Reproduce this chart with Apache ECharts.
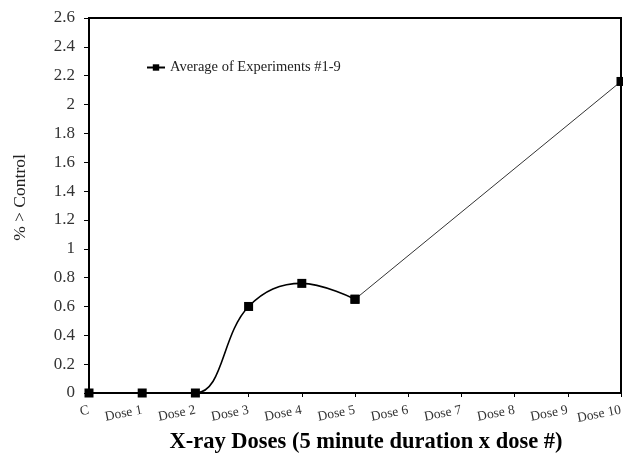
<!DOCTYPE html>
<html>
<head>
<meta charset="utf-8">
<script src="https://cdn.jsdelivr.net/npm/echarts@6/dist/echarts.min.js"></script>
<style>
  html, body { margin: 0; padding: 0; background: #fff; }
  #chart { width: 623px; height: 455px; }
</style>
</head>
<body>
<div id="chart"></div>
<script>
const categories = ["C", "Dose 1", "Dose 2", "Dose 3", "Dose 4", "Dose 5", "Dose 6", "Dose 7", "Dose 8", "Dose 9", "Dose 10"];
// measured points (doses 6-9 were not plotted)
const averageValues = [0, 0, 0, 0.6, 0.76, 0.65, null, null, null, null, 2.16];
const seriesName = "Average of Experiments #1-9";

// smooth curve up to Dose 5, straight segment afterwards
const curvePart = averageValues.map((v, i) => (i <= 5 ? v : null));
const straightPart = averageValues.map((v, i) => (i >= 5 ? v : null));

const serif = "Liberation Serif";
const myChart = echarts.init(document.getElementById("chart"));

myChart.setOption({
  animation: false,
  grid: {
    left: 89, right: 2, top: 18, bottom: 62,
    containLabel: false,
    outerBoundsMode: "none",
    show: true, borderColor: "#000", borderWidth: 2
  },
  legend: {
    data: [seriesName],
    left: 146, top: 60, padding: 0,
    itemWidth: 18, itemHeight: 8,
    textStyle: { fontFamily: serif, fontSize: 14.5, color: "#222" }
  },
  xAxis: {
    type: "category",
    data: categories,
    boundaryGap: false,
    name: "X-ray Doses (5 minute duration x dose #)",
    nameLocation: "middle",
    nameGap: 38,
    nameTextStyle: { fontFamily: serif, fontSize: 22.5, fontWeight: "bold", color: "#000", padding: [0, 0, 0, 22] },
    axisLine: { lineStyle: { color: "#000", width: 2 } },
    axisTick: { alignWithLabel: true, length: 4, lineStyle: { color: "#000" } },
    axisLabel: { rotate: 11, interval: 0, fontFamily: serif, fontSize: 13.5, color: "#333", margin: 17 },
    splitLine: { show: false }
  },
  yAxis: {
    type: "value",
    min: 0, max: 2.6, interval: 0.2,
    name: "% > Control",
    nameLocation: "middle",
    nameGap: 60,
    nameTextStyle: { fontFamily: serif, fontSize: 17.5, color: "#222", padding: [0, 0, 0, 16] },
    axisLine: { show: true, lineStyle: { color: "#000", width: 2 } },
    axisTick: { show: true, length: 5, lineStyle: { color: "#000" } },
    axisLabel: { fontFamily: serif, fontSize: 17, color: "#333", margin: 14 },
    splitLine: { show: false }
  },
  series: [
    {
      name: seriesName,
      type: "line",
      data: curvePart,
      smooth: 0.4,
      symbol: "rect",
      symbolSize: 9,
      itemStyle: { color: "#000" },
      lineStyle: { color: "#000", width: 1.6 }
    },
    {
      name: seriesName,
      type: "line",
      data: straightPart,
      connectNulls: true,
      symbol: "rect",
      symbolSize: 9,
      itemStyle: { color: "#000" },
      lineStyle: { color: "#333", width: 1 }
    }
  ]
});
</script>
</body>
</html>
